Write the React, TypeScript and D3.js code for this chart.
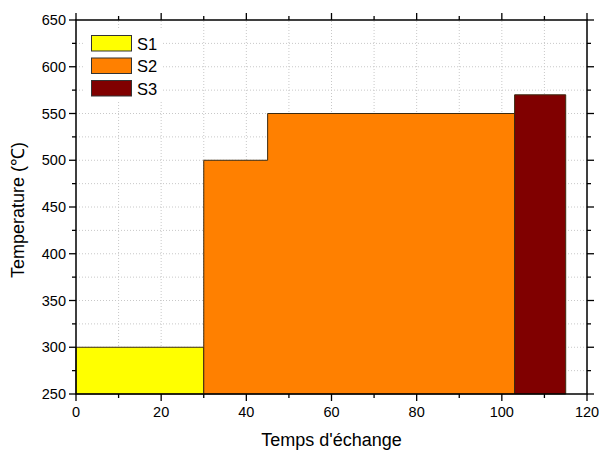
import React from "react";
import * as d3 from "d3";

const seriesNames = ["S1", "S2", "S3"];
const seriesColors = ["#FFFF00", "#FF8000", "#800000"];
// step segments per series: [start, end, temperature]
const s1Start = [0];
const s1End = [30];
const s1Temp = [300];
const s2Start = [30, 45];
const s2End = [45, 103];
const s2Temp = [500, 550];
const s3Start = [103];
const s3End = [115];
const s3Temp = [570];
const xTicks = [0, 20, 40, 60, 80, 100, 120];
const yTicks = [250, 300, 350, 400, 450, 500, 550, 600, 650];

const W = 599, H = 453;
const M = { left: 76, right: 12, top: 20, bottom: 59 };

export default function App() {
  const x = d3.scaleLinear().domain([0, 120]).range([M.left, W - M.right]);
  const y = d3.scaleLinear().domain([250, 650]).range([H - M.bottom, M.top]);
  const x0 = x(0), x1 = x(120), y0 = y(250), y1 = y(650);

  const series = [
    { s: s1Start, e: s1End, t: s1Temp },
    { s: s2Start, e: s2End, t: s2Temp },
    { s: s3Start, e: s3End, t: s3Temp },
  ];
  const pathFor = (d: { s: number[]; e: number[]; t: number[] }) => {
    const p = d3.path();
    p.moveTo(x(d.s[0]), y(250));
    d.s.forEach((st, i) => {
      p.lineTo(x(st), y(d.t[i]));
      p.lineTo(x(d.e[i]), y(d.t[i]));
    });
    p.lineTo(x(d.e[d.e.length - 1]), y(250));
    p.closePath();
    return p.toString();
  };

  const minorX = d3.range(10, 120, 10);
  const minorY = d3.range(275, 650, 25);
  const font = "Liberation Sans, Arial, sans-serif";

  return (
    <svg width={W} height={H} style={{ position: "absolute", left: 0, top: 0, background: "#fff" }}>
      <rect x={0} y={0} width={W} height={H} fill="#fff" />
      {/* grid */}
      {minorX.map((v) => (
        <line key={"gx" + v} x1={x(v)} x2={x(v)} y1={y0} y2={y1} stroke="#c8c8c8" strokeWidth={1} strokeDasharray="1,2" />
      ))}
      {minorY.map((v) => (
        <line key={"gy" + v} x1={x0} x2={x1} y1={y(v)} y2={y(v)} stroke="#c8c8c8" strokeWidth={1} strokeDasharray="1,2" />
      ))}
      {/* areas */}
      {series.map((d, i) => (
        <path key={"a" + i} d={pathFor(d)} fill={seriesColors[i]} stroke="#3a2a10" strokeWidth={1} />
      ))}
      {/* legend */}
      <rect x={84} y={28} width={78} height={72} fill="#fff" />
      {seriesNames.map((n, i) => (
        <g key={n}>
          <rect x={91.5} y={35.5 + i * 22.5} width={40} height={15.5} fill={seriesColors[i]} stroke="#333" strokeWidth={1} />
          <text x={137} y={49.5 + i * 22.5} fontFamily={font} fontSize={16.5} fill="#000">{n}</text>
        </g>
      ))}
      {/* frame */}
      <rect x={x0} y={y1} width={x1 - x0} height={y0 - y1} fill="none" stroke="#000" strokeWidth={1.5} />
      {/* x ticks bottom & top */}
      {d3.range(0, 121, 10).map((v) => {
        const major = v % 20 === 0;
        const len = major ? 7 : 4;
        return (
          <g key={"tx" + v}>
            <line x1={x(v)} x2={x(v)} y1={y0} y2={y0 + len} stroke="#000" strokeWidth={1.3} />
            <line x1={x(v)} x2={x(v)} y1={y1} y2={y1 - len} stroke="#000" strokeWidth={1.3} />
          </g>
        );
      })}
      {xTicks.map((v) => (
        <text key={"lx" + v} x={x(v)} y={y0 + 23} textAnchor="middle" fontFamily={font} fontSize={14.5} fill="#000">{v}</text>
      ))}
      {/* y ticks left & right */}
      {d3.range(250, 651, 25).map((v) => {
        const major = v % 50 === 0;
        const len = major ? 7 : 4;
        return (
          <g key={"ty" + v}>
            <line x1={x0} x2={x0 - len} y1={y(v)} y2={y(v)} stroke="#000" strokeWidth={1.3} />
            <line x1={x1} x2={x1 + len} y1={y(v)} y2={y(v)} stroke="#000" strokeWidth={1.3} />
          </g>
        );
      })}
      {yTicks.map((v) => (
        <text key={"ly" + v} x={x0 - 10} y={y(v) + 5} textAnchor="end" fontFamily={font} fontSize={14.5} fill="#000">{v}</text>
      ))}
      {/* axis titles */}
      <text x={(x0 + x1) / 2} y={446} textAnchor="middle" fontFamily={font} fontSize={18} fill="#000">Temps d'échange</text>
      <text transform={`translate(24,${(y0 + y1) / 2 + 3}) rotate(-90)`} textAnchor="middle" fontFamily={font} fontSize={18} fill="#000">Temperature (℃)</text>
    </svg>
  );
}
